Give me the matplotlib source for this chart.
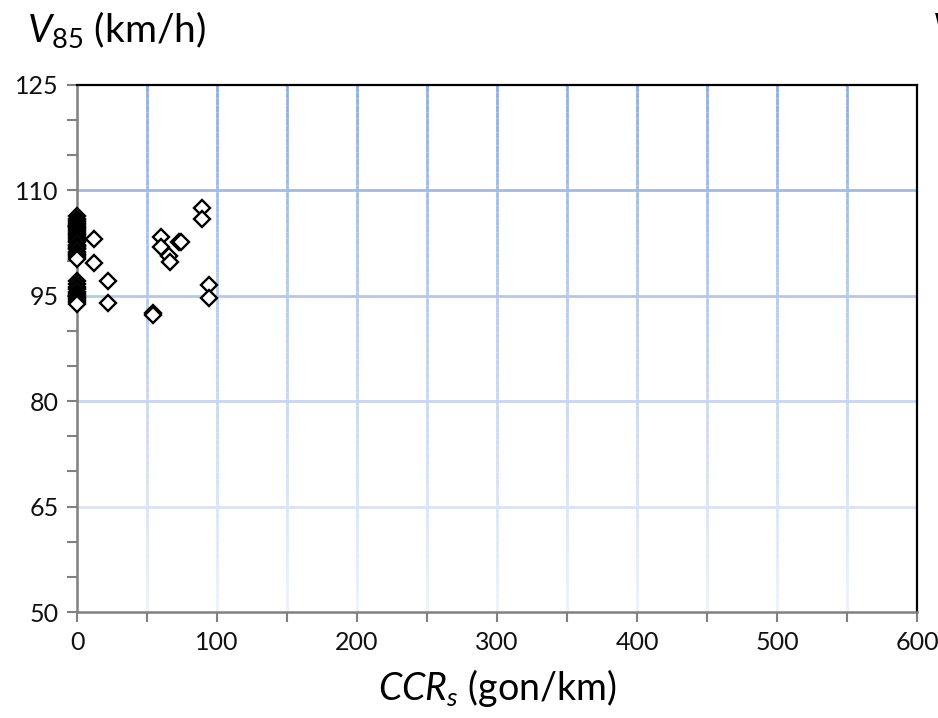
import matplotlib
matplotlib.use("Agg")
import matplotlib.pyplot as plt
from matplotlib.collections import LineCollection
from matplotlib.colors import to_rgb
import numpy as np

plt.rcParams['font.family'] = 'Lato'
plt.rcParams['mathtext.fontset'] = 'custom'
plt.rcParams['mathtext.rm'] = 'Lato'
plt.rcParams['mathtext.it'] = 'Lato:italic'

# Sites on straight sections (CCRs = 0)
v85_straight = [106.3, 106.0, 105.7, 105.4, 105.1, 104.8, 104.6, 104.3, 104.1,
                103.8, 103.6, 103.3, 103.1, 102.8, 102.6, 102.3, 102.1, 101.8,
                101.6, 101.3, 101.0, 100.8, 100.5, 100.2,
                97.1, 96.7, 96.3, 95.9, 95.6, 95.3, 95.0, 94.7, 94.4, 94.1, 93.8]

# Sites with curvature
ccr_curved = [12, 12, 22, 22, 54, 54.5, 60, 60, 66, 66.5, 73, 74, 89.5, 89.5, 94, 94]
v85_curved = [103.1, 99.6, 97.1, 94.0, 92.6, 92.2, 103.4, 101.9, 100.7, 99.8,
              102.7, 102.6, 107.5, 105.9, 96.6, 94.7]

x_ticks = [0, 100, 200, 300, 400, 500, 600]
y_ticks = [50, 65, 80, 95, 110, 125]

ccr_all = [0] * len(v85_straight) + ccr_curved
v85_all = v85_straight + v85_curved

fig = plt.figure(figsize=(9.38, 7.18), dpi=100)
ax = fig.add_axes([77 / 938, 1 - 612 / 718, 840 / 938, 527 / 718])

ax.set_xlim(0, 600)
ax.set_ylim(50, 125)

# grid fades from a light blue at the top to almost white at the bottom
top_c = np.array(to_rgb('#8eade0'))
bot_c = np.array(to_rgb('#edf2fa'))


def grid_col(frac):
    return tuple(bot_c + (top_c - bot_c) * frac)


ys = np.linspace(50, 125, 80)
for gx in range(50, 600, 50):
    segs = [[(gx, ys[i]), (gx, ys[i + 1])] for i in range(len(ys) - 1)]
    cols = [grid_col((ys[i] - 50) / 75) for i in range(len(ys) - 1)]
    ax.add_collection(LineCollection(segs, colors=cols, linewidths=2.0, zorder=1))
for gy in y_ticks[1:-1]:
    ax.axhline(gy, color=grid_col((gy - 50) / 75), linewidth=2.0, zorder=1)

ax.plot(ccr_all, v85_all, linestyle='none', marker='D', markersize=8.3,
        markerfacecolor='white', markeredgecolor='black', markeredgewidth=1.7,
        clip_on=False, zorder=3)

ax.set_xticks(range(0, 601, 50))
ax.set_xticklabels([str(v) if v in x_ticks else '' for v in range(0, 601, 50)])
ax.set_yticks(y_ticks)
ax.set_yticks(range(50, 126, 5), minor=True)
ax.tick_params(axis='both', which='both', direction='out', length=7, width=1.5,
               color='#808080', labelsize=18, labelcolor='#111111', pad=6)
ax.tick_params(axis='x', pad=7)

for side in ['left', 'bottom']:
    ax.spines[side].set_color('#808080')
    ax.spines[side].set_linewidth(1.8)
for side in ['top', 'right']:
    ax.spines[side].set_color('black')
    ax.spines[side].set_linewidth(1.6)

fig.text(27 / 938, 1 - 30 / 718, r'$\mathit{V}_{\mathit{85}}$ (km/h)', fontsize=28,
         ha='left', va='center')
fig.text(497 / 938, 1 - 688 / 718, r'$\mathit{CCR}_{\mathit{s}}$ (gon/km)', fontsize=27,
         ha='center', va='center')
fig.text(932 / 938, 1 - 30 / 718, r'$\mathit{V}$', fontsize=28,
         ha='left', va='center')

fig.savefig('out.png', dpi=100)
